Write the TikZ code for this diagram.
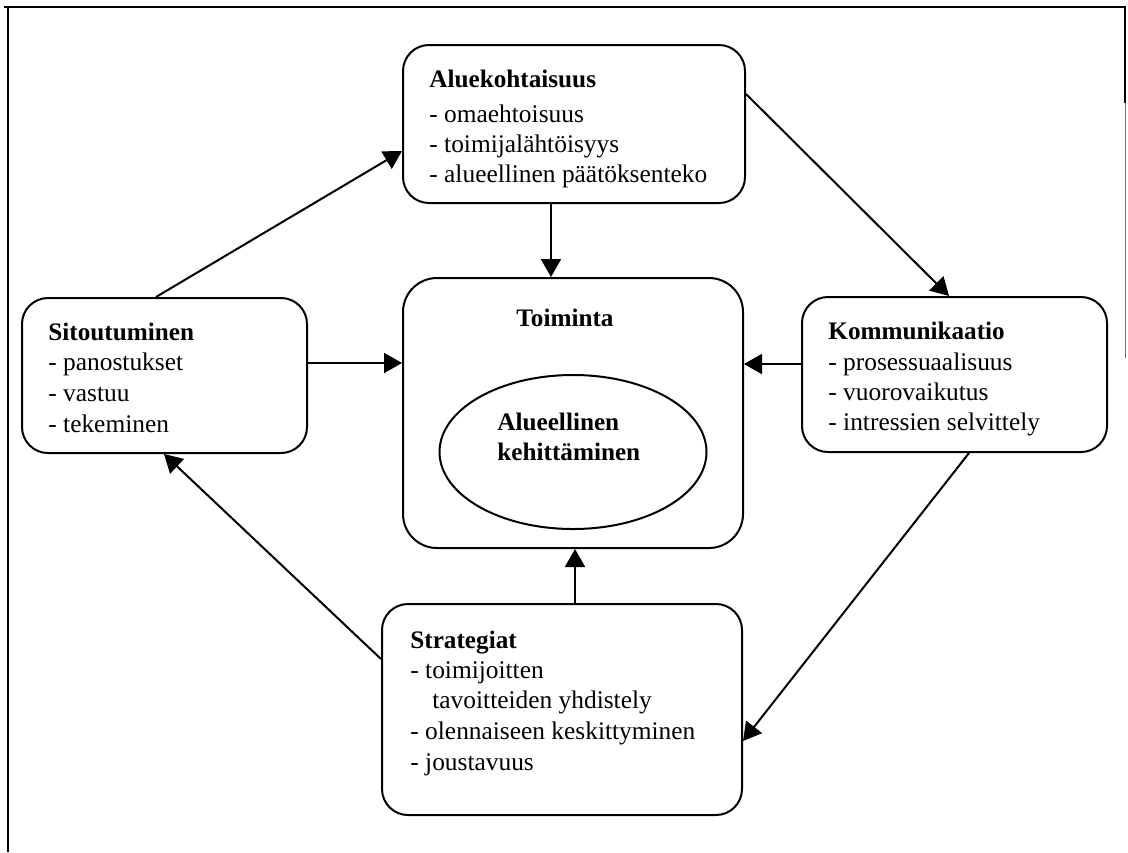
\documentclass[tikz,border=0pt]{standalone}
\usepackage{fontspec}
\setmainfont{Liberation Serif}
\usetikzlibrary{arrows.meta,calc,shapes.geometric}

\tikzset{
  box/.style={draw, line width=1pt, rounded corners=13pt, inner sep=0pt},
  bigbox/.style={draw, line width=1pt, rounded corners=17pt, inner sep=0pt},
  oval/.style={draw, line width=1pt, ellipse, inner sep=0pt},
  head/.style={anchor=base west, inner sep=0pt, font=\fontsize{12.6}{15}\selectfont\bfseries},
  item/.style={anchor=base west, inner sep=0pt, font=\fontsize{12.7}{15}\selectfont},
  link/.style={line width=1pt, -{Triangle[length=9pt,width=10pt]}},
  frame/.style={line width=1pt}
}

\begin{document}
\begin{tikzpicture}[x=0.5pt,y=-0.5pt]
  \useasboundingbox (0,0) rectangle (1128,852);

  % outer frame
  \draw[frame] (4,7) -- (1125,7) -- (1125,103);
  \draw[line width=0.5pt, black!55] (1125,103) -- (1125,358);
  \draw[frame] (8,7) -- (8,852);

  % boxes
  \node[box, minimum width=171pt, minimum height=79pt] (alue) at (574,124) {};
  \node[box, minimum width=142.5pt, minimum height=77.5pt] (sito) at (164.5,375.5) {};
  \node[box, minimum width=152.5pt, minimum height=77.5pt] (komm) at (954.5,374.5) {};
  \node[bigbox, minimum width=170pt, minimum height=135pt] (toim) at (573,413) {};
  \node[box, minimum width=180pt, minimum height=105.5pt] (strat) at (562,709.5) {};
  \node[oval, minimum width=133.5pt, minimum height=77pt] (kehi) at (573,452) {};

  % Aluekohtaisuus
  \node[head] (alueH) at (429,87) {Aluekohtaisuus};
  \node[item] (alue1) at (429,122) {- omaehtoisuus};
  \node[item] (alue2) at (429,152) {- toimijalähtöisyys};
  \node[item] (alue3) at (429,182) {- alueellinen päätöksenteko};

  % Sitoutuminen
  \node[head] (sitoH) at (48,340) {Sitoutuminen};
  \node[item] (sito1) at (48,370) {- panostukset};
  \node[item] (sito2) at (48,401) {- vastuu};
  \node[item] (sito3) at (48,432) {- tekeminen};

  % Kommunikaatio
  \node[head] (kommH) at (828,339) {Kommunikaatio};
  \node[item] (komm1) at (828,370) {- prosessuaalisuus};
  \node[item] (komm2) at (828,400) {- vuorovaikutus};
  \node[item] (komm3) at (828,430) {- intressien selvittely};

  % Toiminta with the inner ellipse
  \node[head, anchor=base] (toimH) at (565,326) {Toiminta};
  \node[head] (kehi1) at (497,430) {Alueellinen};
  \node[head] (kehi2) at (497,460) {kehittäminen};

  % Strategiat
  \node[head] (stratH) at (410,648) {Strategiat};
  \node[item] (strat1) at (410,678) {- toimijoitten};
  \node[item] (strat2) at (432,708) {tavoitteiden yhdistely};
  \node[item] (strat3) at (410,739) {- olennaiseen keskittyminen};
  \node[item] (strat4) at (410,770) {- joustavuus};

  % connector end points on the box borders
  \coordinate (sitoTop)   at ($(sito.north west)+(135,0)$);
  \coordinate (alueLeft)  at ($(alue.south west)+(0,-53)$);
  \coordinate (alueRight) at ($(alue.north east)+(0,50)$);
  \coordinate (kommTop)   at ($(komm.north west)+(148,0)$);
  \coordinate (kommBot)   at ($(komm.south west)+(168,0)$);
  \coordinate (stratRight) at ($(strat.north east)+(0,138)$);
  \coordinate (stratLeft) at ($(strat.north west)+(0,56)$);
  \coordinate (sitoBot)   at ($(sito.south west)+(143,0)$);
  \coordinate (alueBot)   at ($(alue.south west)+(149,0)$);
  \coordinate (sitoRight) at ($(sito.north east)+(0,66)$);
  \coordinate (kommLeft)  at ($(komm.north west)+(0,68)$);
  \coordinate (stratTop)  at ($(strat.north west)+(194,0)$);

  % outer cycle
  \draw[link] (sitoTop) -- (alueLeft);
  \draw[link] (alueRight) -- (kommTop);
  \draw[link] (kommBot) -- (stratRight);
  \draw[link] (stratLeft) -- (sitoBot);

  % into Toiminta
  \draw[link] (alueBot) -- (alueBot |- toim.north);
  \draw[link] (sitoRight) -- (sitoRight -| toim.west);
  \draw[link] (kommLeft) -- (kommLeft -| toim.east);
  \draw[link] (stratTop) -- (stratTop |- toim.south);
\end{tikzpicture}
\end{document}
